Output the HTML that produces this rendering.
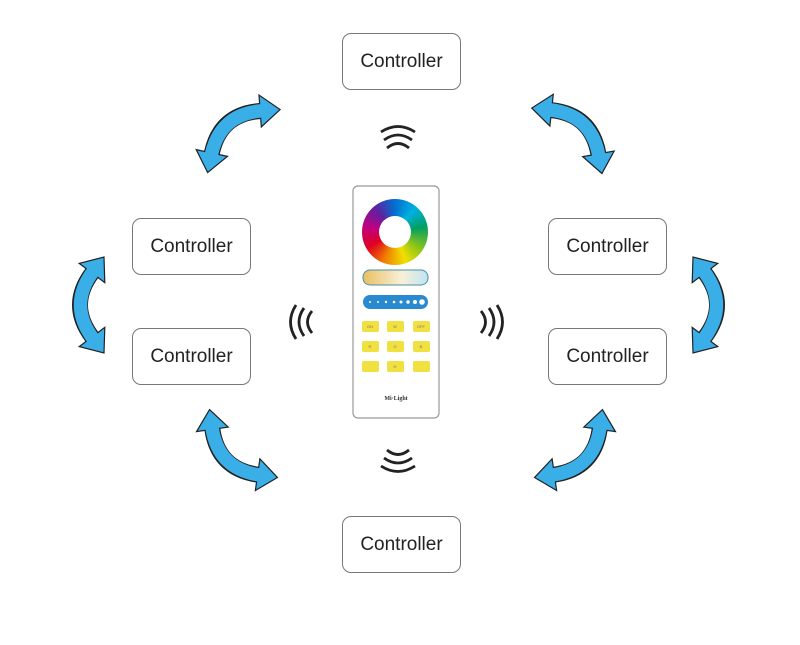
<!DOCTYPE html>
<html><head><style>
body{margin:0;width:800px;height:645px;background:#fff;overflow:hidden;position:relative;font-family:"Liberation Sans",sans-serif}
.c{position:absolute;width:119px;height:57px;border:1.3px solid #777;border-radius:9px;box-sizing:border-box;display:flex;align-items:center;justify-content:center;font-size:19px;color:#222}
</style></head><body>
<div class="c" style="left:342px;top:33px">Controller</div>
<div class="c" style="left:132px;top:218px">Controller</div>
<div class="c" style="left:132px;top:328px">Controller</div>
<div class="c" style="left:548px;top:218px">Controller</div>
<div class="c" style="left:548px;top:328px">Controller</div>
<div class="c" style="left:342px;top:516px">Controller</div>
<svg width="800" height="645" style="position:absolute;left:0;top:0">
<defs>
<g id="ar">
<path d="M-32,0 Q0,-24 32,0" fill="none" stroke="#222" stroke-width="16"/>
<polygon points="48,12 22.4,12.8 41.6,-12.8" fill="#3aaee6" stroke="#222" stroke-width="1.2"/>
<polygon points="-48,12 -22.4,12.8 -41.6,-12.8" fill="#3aaee6" stroke="#222" stroke-width="1.2"/>
<path d="M-33.5,1 Q0,-24 33.5,1" fill="none" stroke="#3aaee6" stroke-width="13.5"/>
</g>
<g id="w" fill="none" stroke="#222" stroke-width="2.8">
<path d="M-17,-4 Q0,-15 17,-4"/><path d="M-14,4 Q0,-6 14,4"/><path d="M-11,12 Q0,3 11,12"/>
</g>
</defs>
<use href="#ar" transform="translate(236,132) rotate(-41)"/>
<use href="#ar" transform="translate(575,132) rotate(43)"/>
<use href="#ar" transform="translate(92,305) rotate(-90)"/>
<use href="#ar" transform="translate(705,305) rotate(90)"/>
<use href="#ar" transform="translate(235,452) rotate(225)"/>
<use href="#ar" transform="translate(577,452) rotate(135)"/>
<use href="#w" transform="translate(398,136)"/>
<use href="#w" transform="translate(398,462) rotate(180)"/>
<use href="#w" transform="translate(300,322) rotate(-90)"/>
<use href="#w" transform="translate(493,322) rotate(90)"/>
<rect x="353" y="186" width="86" height="232" rx="5" fill="#fff" stroke="#999" stroke-width="1.2"/>
<foreignObject x="362" y="199" width="66" height="66"><div xmlns="http://www.w3.org/1999/xhtml" style="width:66px;height:66px;border-radius:50%;background:conic-gradient(#0070d0,#00b0e0,#00a060,#80c020,#f0e000,#f08000,#e00020,#c00080,#6020a0,#0070d0)"><div style="position:relative;left:17px;top:17px;width:32px;height:32px;border-radius:50%;background:#fff"></div></div></foreignObject>
<defs><linearGradient id="cg" x1="0" x2="1"><stop offset="0" stop-color="#e8c060"/><stop offset="0.6" stop-color="#f8f0d8"/><stop offset="1" stop-color="#bfe4f4"/></linearGradient></defs>
<rect x="363" y="270" width="65" height="15" rx="7" fill="url(#cg)" stroke="#4a90a0"/>
<rect x="363" y="295" width="65" height="14" rx="7" fill="#2a8ad0"/>
<g fill="#fff"><circle cx="370" cy="302" r="1"/><circle cx="378" cy="302" r="1"/><circle cx="386" cy="302" r="1.2"/><circle cx="394" cy="302" r="1.3"/><circle cx="401" cy="302" r="1.5"/><circle cx="408" cy="302" r="1.7"/><circle cx="415" cy="302" r="2"/><circle cx="422" cy="302" r="2.8"/></g>
<g fill="#f0e040">
<rect x="362" y="321" width="17" height="11" rx="2"/><rect x="387" y="321" width="17" height="11" rx="2"/><rect x="413" y="321" width="17" height="11" rx="2"/>
<rect x="362" y="341" width="17" height="11" rx="2"/><rect x="387" y="341" width="17" height="11" rx="2"/><rect x="413" y="341" width="17" height="11" rx="2"/>
<rect x="362" y="361" width="17" height="11" rx="2"/><rect x="387" y="361" width="17" height="11" rx="2"/><rect x="413" y="361" width="17" height="11" rx="2"/>
</g>
<g fill="#777" font-size="4" text-anchor="middle" font-family="Liberation Sans">
<text x="370" y="328">ON</text><text x="395" y="328">W</text><text x="421" y="328">OFF</text>
<text x="370" y="348">R</text><text x="395" y="348">G</text><text x="421" y="348">B</text>
<text x="395" y="368">H</text>
</g>
<text x="396" y="400" font-size="6" font-family="Liberation Serif" font-weight="bold" text-anchor="middle" fill="#333">Mi·Light</text>
</svg>
</body></html>
